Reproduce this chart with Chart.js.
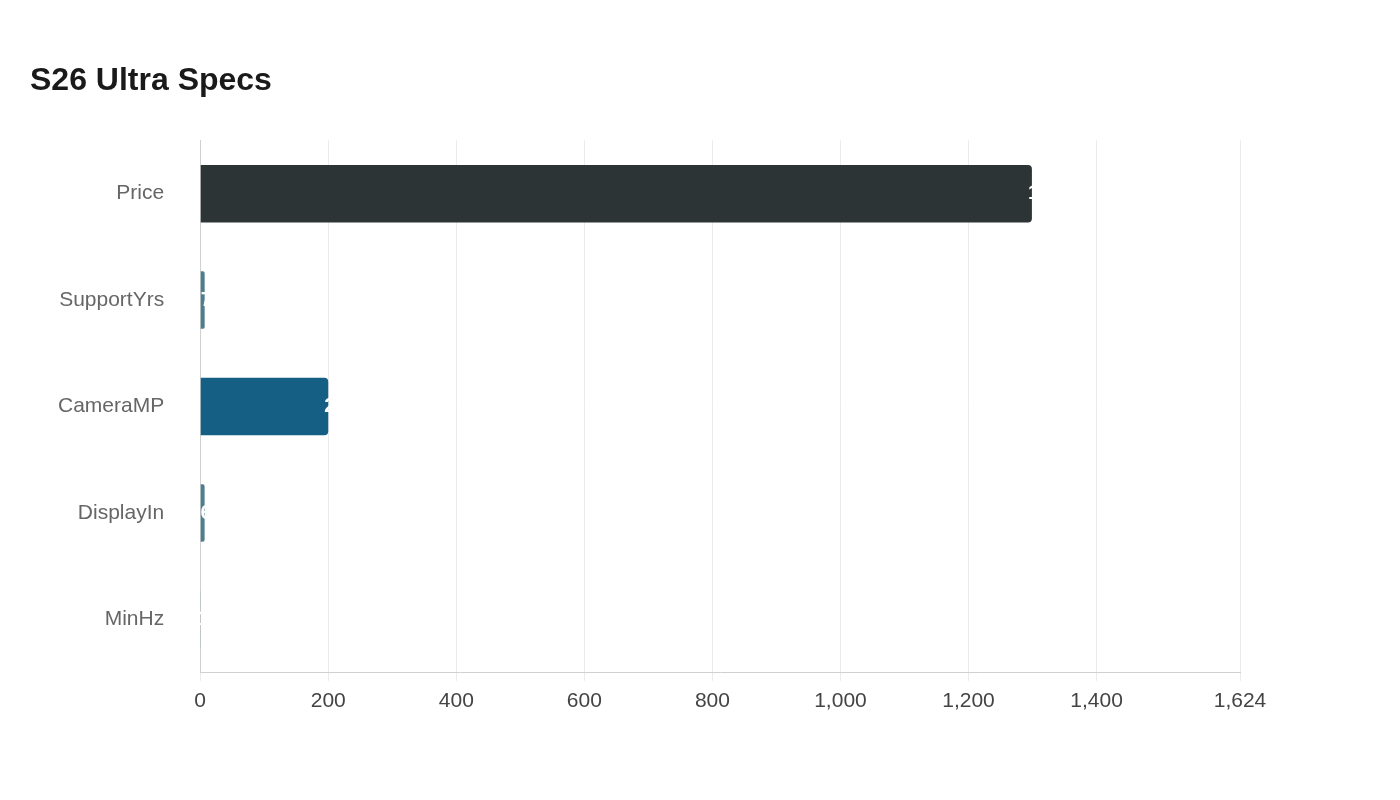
<!DOCTYPE html>
<html>
<head>
<meta charset="utf-8">
<script src="https://cdn.jsdelivr.net/npm/chart.js@4"></script>
<style>
  body { margin: 0; background: #fff; }
  #wrap { width: 1400px; height: 800px; position: relative; }
</style>
</head>
<body>
<div id="wrap"><canvas id="grafico"></canvas></div>
<script>
const categorias = ["Price", "SupportYrs", "CameraMP", "DisplayIn", "MinHz"];
const valores = [1299, 7, 200, 6.9, 1];
const colores = ["#2d3436", "#4e7d8d", "#165f84", "#4e7d8d", "#4e7d8d"];
const ejeMax = 1624;

// etiquetas blancas que empiezan en el extremo de cada barra
const etiquetas = {
  id: "etiquetas",
  afterDatasetsDraw(chart) {
    const ctx = chart.ctx;
    const meta = chart.getDatasetMeta(0);
    ctx.save();
    ctx.fillStyle = "#fff";
    ctx.font = "bold 20px Liberation Sans, Arial, sans-serif";
    ctx.textAlign = "left";
    ctx.textBaseline = "middle";
    meta.data.forEach((bar, i) => {
      ctx.fillText(valores[i].toLocaleString("en-US"), bar.x - 4, bar.y);
    });
    ctx.restore();
  }
};

new Chart(document.querySelector("#grafico"), {
  type: "bar",
  data: {
    labels: categorias,
    datasets: [{
      data: valores,
      backgroundColor: colores,
      borderRadius: 4,
      borderSkipped: "start",
      barPercentage: 0.54,
      categoryPercentage: 1
    }]
  },
  options: {
    indexAxis: "y",
    responsive: true,
    maintainAspectRatio: false,
    animation: false,
    layout: { padding: { left: 30, right: 160, top: 42, bottom: 78 } },
    plugins: {
      legend: { display: false },
      tooltip: { enabled: false },
      title: {
        display: true,
        text: "S26 Ultra Specs",
        align: "start",
        color: "#1a1a1a",
        font: { family: "Liberation Sans, Arial, sans-serif", size: 32, weight: "bold" },
        padding: { top: 20, bottom: 40 }
      }
    },
    scales: {
      x: {
        min: 0,
        max: ejeMax,
        afterBuildTicks(axis) {
          const t = [];
          for (let v = 0; v <= 1400; v += 200) t.push({ value: v });
          t.push({ value: ejeMax });
          axis.ticks = t;
        },
        grid: { color: "#ebebeb", tickLength: 8 },
        border: { color: "#d0d0d0" },
        ticks: {
          color: "#444",
          padding: 8,
          font: { family: "Liberation Sans, Arial, sans-serif", size: 21 },
          callback: (v) => v.toLocaleString("en-US")
        }
      },
      y: {
        grid: { display: false },
        border: { color: "#d0d0d0" },
        ticks: {
          color: "#666",
          padding: 28,
          font: { family: "Liberation Sans, Arial, sans-serif", size: 21 }
        }
      }
    }
  },
  plugins: [etiquetas]
});
</script>
</body>
</html>
